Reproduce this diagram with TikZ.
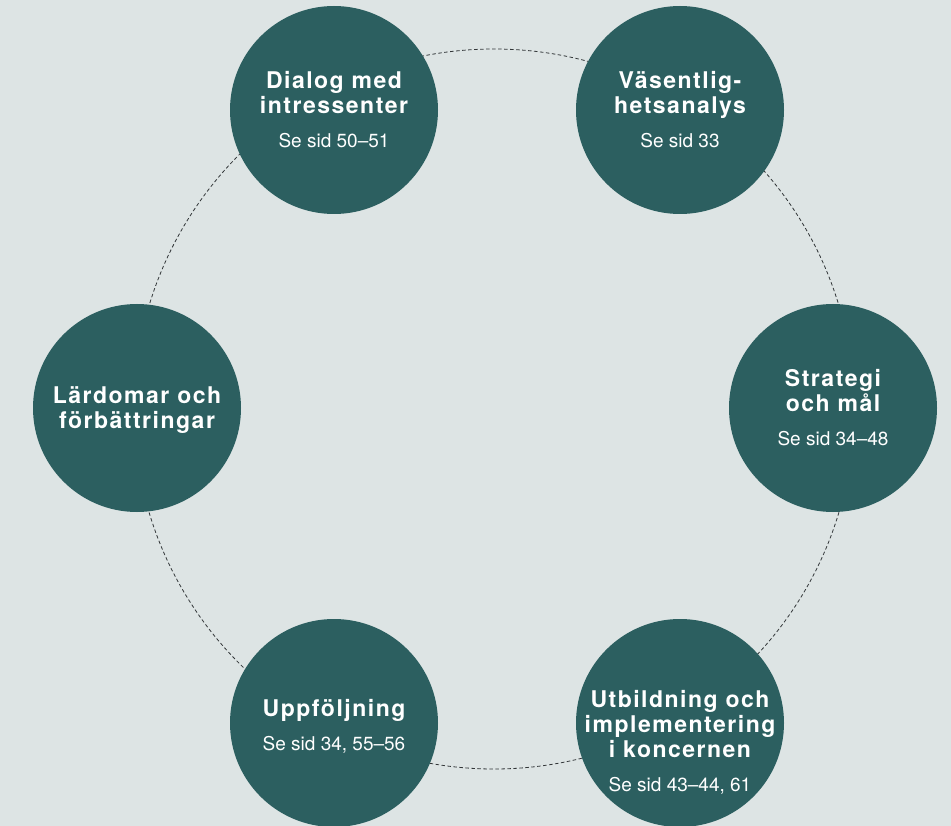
\documentclass[tikz,border=0pt]{standalone}
\usepackage{fontspec}
\setmainfont{TeX Gyre Heros}
\newfontfamily\headfont[LetterSpace=6.5]{TeX Gyre Heros}

\definecolor{backdrop}{RGB}{221,228,228}
\definecolor{stagegreen}{RGB}{44,95,96}
\definecolor{ringgray}{RGB}{50,54,56}

\newcommand{\sidref}[1]{{\normalfont\fontsize{19}{25}\selectfont #1}}

\tikzset{
  stage/.style={circle, fill=stagegreen, minimum size=208pt, inner sep=0pt},
  stagetext/.style={text=white, align=center, inner sep=0pt,
    font=\headfont\bfseries\fontsize{23}{25}\selectfont},
  ringline/.style={draw=ringgray, line width=0.8pt, dash pattern=on 3.5pt off 2.5pt}
}

\begin{document}
\begin{tikzpicture}[x=1pt,y=-1pt]
    \fill[backdrop] (0,0) rectangle (951,826);
    \useasboundingbox (0,0) rectangle (951,826);

    % dashed ring behind the stages
    \coordinate (hub) at (494,409);
    \draw[ringline] (hub) circle[radius=360pt];

    % the six stages
    \node[stage] (dialog) at (334,110) {};
    \node[stage] (analys) at (680,110) {};
    \node[stage] (strategi) at (833,408) {};
    \node[stage] (utbildning) at (680,723) {};
    \node[stage] (uppfoljning) at (334,723) {};
    \node[stage] (lardomar) at (137,408) {};

    \node[stagetext] (dialog-t) at (dialog) {Dialog med\\intressenter\\[9pt]\sidref{Se sid 50–51}};
    \node[stagetext] (analys-t) at (analys) {Väsentlig-\\hetsanalys\\[9pt]\sidref{Se sid 33}};
    \node[stagetext] (strategi-t) at (strategi) {Strategi\\och mål\\[9pt]\sidref{Se sid 34–48}};
    \node[stagetext] (utbildning-t) at ([yshift=-19pt]utbildning.center) {Utbildning och\\implementering\\i koncernen\\[9pt]\sidref{Se sid 43–44, 61}};
    \node[stagetext] (uppfoljning-t) at ([yshift=-3pt]uppfoljning.center) {Uppföljning\\[9pt]\sidref{Se sid 34, 55–56}};
    \node[stagetext] (lardomar-t) at ([yshift=-2pt]lardomar.center) {Lärdomar och\\förbättringar};
\end{tikzpicture}
\end{document}
